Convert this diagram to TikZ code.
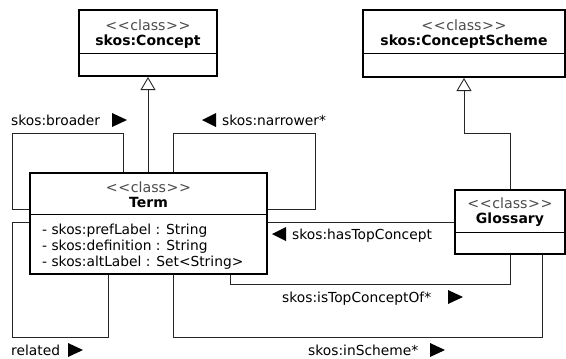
\documentclass[tikz,border=0pt]{standalone}
\usepackage{fontspec}
\setmainfont{DejaVu Sans}
\usetikzlibrary{arrows.meta}
\newcommand{\stereotxt}{\textless\kern0.6pt\textless\kern0.6pt class\kern0.6pt\textgreater\kern0.6pt\textgreater}
\begin{document}
\begin{tikzpicture}[x=1pt,y=-1pt,
  font=\fontsize{13.8}{16}\selectfont,
  box/.style={draw, line width=2pt, fill=white, inner sep=0pt},
  divider/.style={line width=1pt},
  link/.style={draw, line width=0.9pt, black!85},
  gen/.style={link, -{Triangle[open, length=13pt, width=15pt, line width=0.9pt]}},
  stereo/.style={inner sep=0pt, text=black!70, font=\fontsize{14.2}{16}\selectfont},
  title/.style={inner sep=0pt, font=\fontsize{14}{16}\selectfont\bfseries},
  lbl/.style={inner sep=0pt, anchor=base west},
  rtri/.pic={\fill (-7.5,-7) -- (7.5,0) -- (-7.5,7) -- cycle;},
  ltri/.pic={\fill (7,-7) -- (-7,0) -- (7,7) -- cycle;}
]
\useasboundingbox (0,0) rectangle (566,359);

% boxes
\node[box, minimum width=138pt, minimum height=66pt] (concept) at (148,43) {};
\node[box, minimum width=202pt, minimum height=67pt] (scheme) at (464,43.5) {};
\node[box, minimum width=237pt, minimum height=101pt] (term) at (148.5,223.5) {};
\node[box, minimum width=110pt, minimum height=64pt] (glossary) at (510,222) {};

\draw[divider] (concept.west |- 0,53) -- (concept.east |- 0,53);
\draw[divider] (scheme.west |- 0,53) -- (scheme.east |- 0,53);
\draw[divider] (term.west |- 0,214) -- (term.east |- 0,214);
\draw[divider] (glossary.west |- 0,232) -- (glossary.east |- 0,232);

% box texts
\node[stereo] (concept-st) at (148,25) {\stereotxt};
\node[title] (concept-t) at (148,42) {skos:Concept};
\node[stereo] (scheme-st) at (464,25) {\stereotxt};
\node[title] (scheme-t) at (464,42) {skos:ConceptScheme};
\node[stereo] (term-st) at (148.5,187) {\stereotxt};
\node[title] (term-t) at (148.5,202.5) {Term};
\node[stereo] (gl-st) at (510,203) {\stereotxt};
\node[title] (gl-t) at (510,219.5) {Glossary};
\node[lbl] (attr1) at (42,234) {- skos:prefLabel : String};
\node[lbl] (attr2) at (42,250) {- skos:definition : String};
\node[lbl] (attr3) at (42,266) {- skos:altLabel : Set\textless String\textgreater};

% generalizations
\draw[gen] (concept.south |- term.north) -- (concept.south);
\draw[gen] (glossary.north) |- (scheme.south |- 0,133) -- (scheme.south);

% associations
\draw[link] (term.north -| 123,0) -- (123,133) -- (12,133) -- (12,209) -- (term.west |- 0,209);
\draw[link] (term.north -| 173,0) -- (173,133) -- (315,133) -- (315,209) -- (term.east |- 0,209);
\draw[link] (term.west |- 0,222) -- (12,222) -- (12,337) -- (108,337) -- (term.south -| 108,0);
\draw[link] (term.east |- 0,222) -- (glossary.west |- 0,222);
\draw[link] (term.south -| 230,0) -- (230,284) -- (510,284) -- (glossary.south -| 510,0);
\draw[link] (term.south -| 173,0) -- (173,337) -- (542,337) -- (glossary.south -| 542,0);

% labels
\node[lbl] (broader) at (11,125) {skos:broader};
\pic at (119.5,120) {rtri};
\pic at (209,120) {ltri};
\node[lbl] (narrower) at (222,125) {skos:narrower*};
\pic at (279,234) {ltri};
\node[lbl] (hastop) at (292,239) {skos:hasTopConcept};
\node[lbl] (istop) at (282,302) {skos:isTopConceptOf*};
\pic at (455.5,297) {rtri};
\node[lbl] (inscheme) at (308,355) {skos:inScheme*};
\pic at (437.5,350) {rtri};
\node[lbl] (related) at (11,355) {related};
\pic at (75.5,350) {rtri};
\end{tikzpicture}
\end{document}
